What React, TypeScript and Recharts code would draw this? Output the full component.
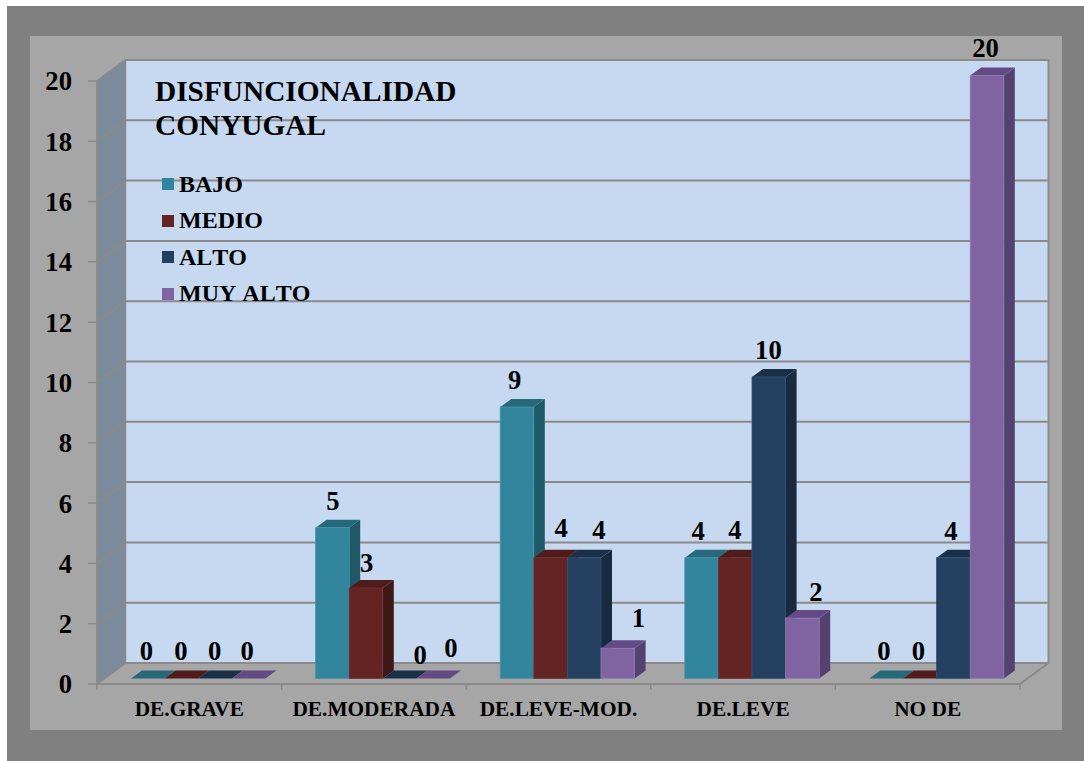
import React from "react";
import { BarChart, Bar, XAxis, YAxis, CartesianGrid, Legend, LabelList } from "recharts";

const categories = ["DE.GRAVE", "DE.MODERADA", "DE.LEVE-MOD.", "DE.LEVE", "NO DE"];
const bajo = [0, 5, 9, 4, 0];
const medio = [0, 3, 4, 4, 0];
const alto = [0, 0, 4, 10, 4];
const muyAlto = [0, 0, 1, 2, 20];
const yTicks = [0, 2, 4, 6, 8, 10, 12, 14, 16, 18, 20];

const rows = categories.map((name, i) => ({
  name,
  BAJO: bajo[i],
  MEDIO: medio[i],
  ALTO: alto[i],
  "MUY ALTO": muyAlto[i],
}));

const series = [
  { key: "BAJO", front: "#31859c", top: "#25697b", side: "#1f5866", edge: "#4b93a8" },
  { key: "MEDIO", front: "#632423", top: "#4f1c1b", side: "#401816", edge: "#6f3534" },
  { key: "ALTO", front: "#244061", top: "#1a3049", side: "#172a40", edge: "#36506f" },
  { key: "MUY ALTO", front: "#8064a2", top: "#644a84", side: "#55416f", edge: "#9079ae" },
];

// Hand-placed data labels of the original, as [dx, dy] from the default spot, by series then category.
const labelNudge: number[][][] = [
  [[-2, 0], [0, 0], [-3, 0], [-4, 0], [-3, 0]],
  [[-1, 0], [0, 2], [10, -3], [-1, -1], [-2, 0]],
  [[-1, 0], [20, 4], [14, -1], [-1, 0], [-3, 0]],
  [[-2, 0], [17, -3], [20, -3], [13, 1], [-2, 0]],
];

const W = 1084;
const H = 761;
const PLOT = { left: 97, right: 1020, top: 81, bottom: 684 };
const WALL = { dx: 28.5, dy: -21 };
const BAR = { width: 33.6, shiftX: 9, shiftY: -5.6, depthX: 11, depthY: -8 };
const GRID = "#8a8a8a";
const SERIF = "'Liberation Serif', 'Times New Roman', serif";
const STEP = (PLOT.right - PLOT.left) / categories.length;

const makeShape = (s: (typeof series)[number]) => (p: any) => {
  const x = p.x + BAR.shiftX;
  const y = p.y + BAR.shiftY;
  const w = p.width;
  const h = p.height;
  const { depthX: dx, depthY: dy } = BAR;
  return (
    <g>
      <polygon points={`${x + w},${y} ${x + w + dx},${y + dy} ${x + w + dx},${y + h + dy} ${x + w},${y + h}`} fill={s.side} />
      <polygon points={`${x},${y} ${x + dx},${y + dy} ${x + w + dx},${y + dy} ${x + w},${y}`} fill={s.top} />
      {h > 0 && <rect x={x} y={y} width={w} height={h} fill={s.front} stroke={s.edge} strokeWidth={0.8} />}
    </g>
  );
};

const makeLabel = (seriesIndex: number) => (p: any) => {
  const nudge = labelNudge[seriesIndex][p.index] || [0, 0];
  const cx = p.x + p.width / 2 + BAR.shiftX + 0.6 + nudge[0];
  const top = p.y + BAR.shiftY - 18 + nudge[1];
  return (
    <text x={cx} y={top} textAnchor="middle" fontFamily={SERIF} fontWeight="bold" fontSize={26.67} fill="#000">
      {p.value}
    </text>
  );
};

const gridLine = (p: any) => {
  const yBack = p.y1 + WALL.dy;
  return (
    <polyline
      key={p.key}
      points={`${p.x1},${p.y1} ${p.x1 + WALL.dx},${yBack} ${p.x2 + WALL.dx + 0.5},${yBack}`}
      fill="none"
      stroke={GRID}
      strokeWidth={2}
    />
  );
};

// The original's tick marks fall between the categories, with the label centred below them.
const CategoryTick = (p: any) => {
  const isLast = p.index === categories.length - 1;
  const markY1 = PLOT.bottom;
  const markY2 = PLOT.bottom + 6;
  return (
    <g>
      <line x1={p.x - STEP / 2} x2={p.x - STEP / 2} y1={markY1} y2={markY2} stroke={GRID} strokeWidth={1.5} />
      {isLast && <line x1={p.x + STEP / 2} x2={p.x + STEP / 2} y1={markY1} y2={markY2} stroke={GRID} strokeWidth={1.5} />}
      <text
        x={p.x}
        y={PLOT.bottom + 32}
        textAnchor="middle"
        fontFamily={SERIF}
        fontWeight="bold"
        fontSize={21.33}
        fill="#000"
      >
        {p.payload.value}
      </text>
    </g>
  );
};

const LegendBody = (p: any) => (
  <div style={{ fontFamily: SERIF, fontWeight: "bold", fontSize: 24, color: "#000", fontKerning: "none" }}>
    {p.payload.map((item: any) => (
      <div key={item.value} style={{ display: "flex", alignItems: "center", height: 36.5, whiteSpace: "nowrap" }}>
        <span style={{ display: "inline-block", width: 12, height: 12, marginRight: 5, background: item.color }} />
        <span>{item.value}</span>
      </div>
    ))}
  </div>
);

export default function App() {
  const { left, right, top, bottom } = PLOT;
  const { dx, dy } = { dx: WALL.dx, dy: WALL.dy };
  return (
    <div style={{ position: "absolute", left: 0, top: 0, width: W, height: H, background: "#fff", overflow: "hidden" }}>
      <svg width={W} height={H} style={{ position: "absolute", left: 0, top: 0 }}>
        <rect x={7} y={6} width={W - 7} height={H - 6} fill="#808080" />
        <rect x={30} y={36} width={1032} height={694} fill="#a6a6a6" />
        <polygon points={`${left},${top} ${left + dx},${top + dy} ${left + dx},${bottom + dy} ${left},${bottom}`} fill="#7c8b9b" />
        <rect x={left + dx} y={top + dy} width={right - left} height={bottom - top} fill="#c6d9f1" />
        <polyline points={`${right},${bottom} ${right + dx},${bottom + dy} ${right + dx},${top + dy}`} fill="none" stroke={GRID} strokeWidth={2} />
        <line x1={left + dx} y1={top + dy} x2={left + dx} y2={bottom + dy} stroke={GRID} strokeWidth={1.5} />
      </svg>
      <div style={{ position: "absolute", left: 0, top: 0 }}>
        <BarChart
          width={W}
          height={H}
          data={rows}
          barSize={BAR.width}
          barGap={0}
          margin={{ top: PLOT.top, right: W - PLOT.right, bottom: 0, left: 0 }}
        >
          <CartesianGrid vertical={false} horizontal={gridLine} />
          <XAxis
            dataKey="name"
            height={H - PLOT.bottom}
            interval={0}
            axisLine={{ stroke: GRID, strokeWidth: 2 }}
            tickLine={false}
            tick={CategoryTick}
          />
          <YAxis
            width={PLOT.left}
            domain={[0, 20]}
            ticks={yTicks}
            interval={0}
            axisLine={{ stroke: GRID, strokeWidth: 2 }}
            tickLine={{ stroke: GRID, strokeWidth: 1.5 }}
            tickSize={9}
            tickMargin={16}
            tick={{ fontFamily: SERIF, fontWeight: "bold", fontSize: 26.67, fill: "#000" }}
          />
          <Legend
            layout="vertical"
            align="center"
            verticalAlign="middle"
            itemSorter={null}
            content={LegendBody}
            wrapperStyle={{ left: 162, top: 166, width: 200, height: 146 }}
          />
          {series.map((s, i) => (
            <Bar key={s.key} dataKey={s.key} name={s.key} fill={s.front} isAnimationActive={false} shape={makeShape(s)}>
              <LabelList dataKey={s.key} content={makeLabel(i)} />
            </Bar>
          ))}
        </BarChart>
      </div>
      <div
        style={{
          position: "absolute",
          left: 155,
          top: 74,
          fontFamily: SERIF,
          fontWeight: "bold",
          fontSize: 29.33,
          lineHeight: "34px",
          color: "#000",
        }}
      >
        DISFUNCIONALIDAD
        <br />
        CONYUGAL
      </div>
    </div>
  );
}
